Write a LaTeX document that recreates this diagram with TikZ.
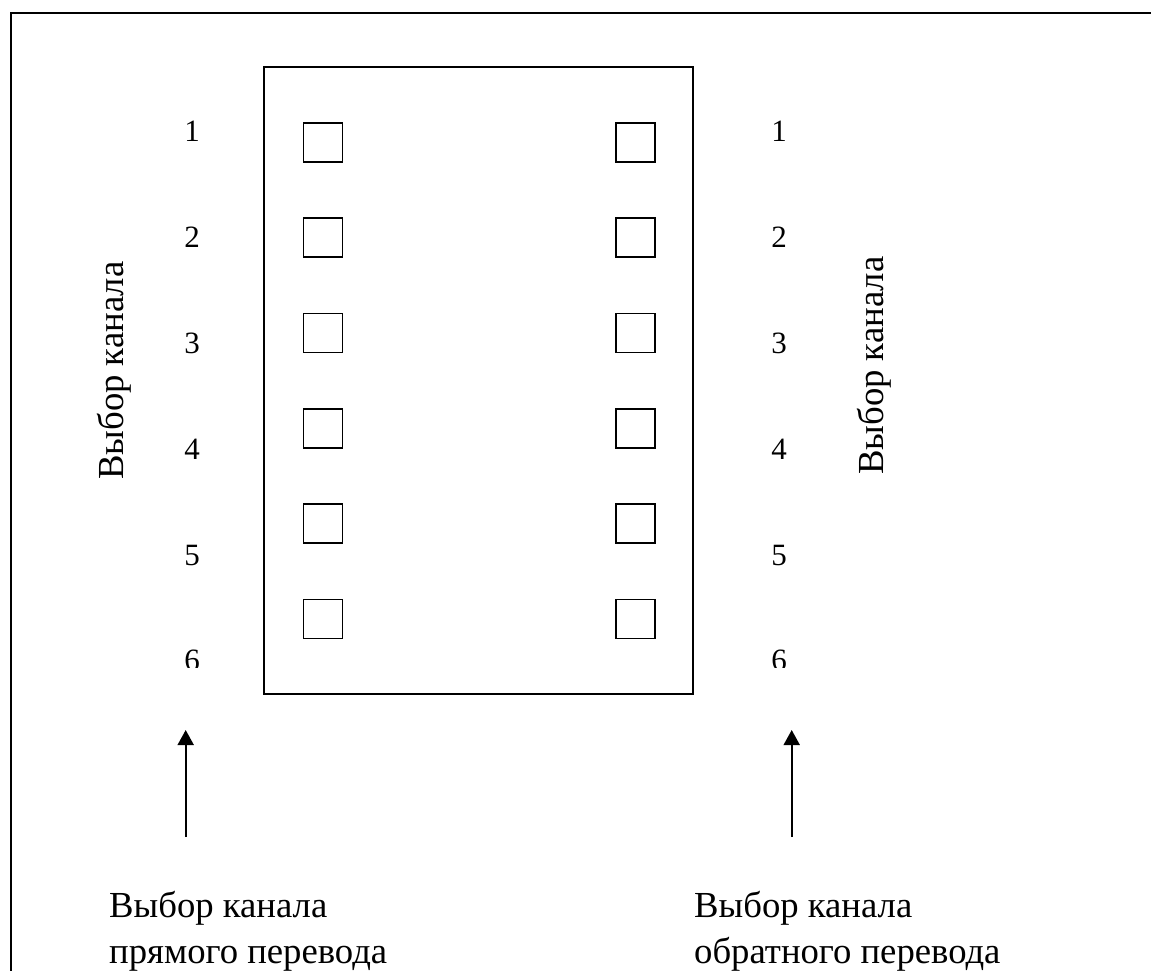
\documentclass[tikz,border=0pt]{standalone}
\usepackage{fontspec}
\setmainfont{Liberation Serif}
\usetikzlibrary{arrows.meta}
\tikzset{
  frameline/.style={line width=2pt},
  board/.style={draw, line width=1.8pt, inner sep=0pt},
  cell/.style={draw, line width=1.6pt, minimum width=39pt, minimum height=39pt, inner sep=0pt},
  numlbl/.style={inner sep=0pt, anchor=base, font=\fontsize{31}{36}\selectfont},
  sidelbl/.style={inner sep=0pt, anchor=base west, rotate=90, font=\fontsize{36.7}{46}\selectfont},
  botlbl/.style={inner sep=0pt, anchor=base west, align=left, font=\fontsize{36.7}{46}\selectfont},
  uparrow/.style={line width=1.8pt, -{Triangle[length=15pt,width=16pt]}}
}
\begin{document}
\begin{tikzpicture}[x=1pt,y=-1pt]
\useasboundingbox (0,0) rectangle (1151,971);
% outer frame lines
\coordinate (fbl) at (11,975);
\coordinate (ftl) at (11,13);
\coordinate (ftr) at (1155,13);
\draw[frameline] (fbl) -- (ftl) -- (ftr);
% board
\node[board, minimum width=429pt, minimum height=627pt] (brd) at (478.8,380.5) {};
% cells
\foreach \i in {1,...,6}{
  \pgfmathsetmacro{\cy}{142.5+95.26*(\i-1)}
  \node[cell] (L\i) at (322.8,\cy) {};
  \node[cell] (R\i) at (635.3,\cy) {};
}
% numbers
\foreach \i/\b in {1/142,2/247.8,3/353.6,4/459.2,5/565}{
  \node[numlbl] (nl\i) at (192,\b) {\i};
  \node[numlbl] (nr\i) at (779,\b) {\i};
}
\begin{scope}
  \clip (0,0) rectangle (1151,667);
  \node[numlbl] (nl6) at (192,670.5) {6};
  \node[numlbl] (nr6) at (779,670.5) {6};
\end{scope}
% rotated side labels
\node[sidelbl] (sl) at (123,480) {Выбор канала};
\node[sidelbl] (sr) at (883,475) {Выбор канала};
% arrows
\coordinate (la0) at (185.7,837);
\coordinate (la1) at (185.7,730);
\coordinate (ra0) at (791.7,837);
\coordinate (ra1) at (791.7,730);
\draw[uparrow] (la0) -- (la1);
\draw[uparrow] (ra0) -- (ra1);
% bottom labels (base anchor = last line's baseline)
\node[botlbl] (bl) at (109,963) {Выбор канала\\прямого перевода};
\node[botlbl] (br) at (694,963) {Выбор канала\\обратного перевода};
\end{tikzpicture}
\end{document}
